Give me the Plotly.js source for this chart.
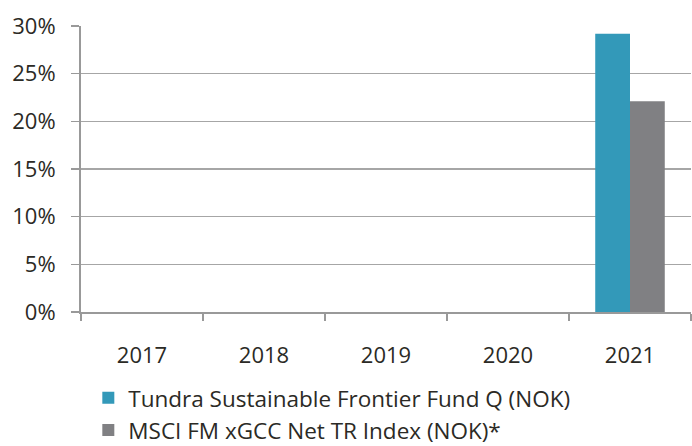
<!DOCTYPE html>
<html>
<head>
<meta charset="utf-8">
<script src="https://cdn.plot.ly/plotly-3.0.1.min.js"></script>
<style>html,body{margin:0;padding:0;background:#fff}#chart{width:692px;height:446px}</style>
</head>
<body>
<div id="chart"></div>
<script>
const years = ["2017", "2018", "2019", "2020", "2021"];
const fundName = "Tundra Sustainable Frontier Fund Q (NOK)";
const indexName = "MSCI FM xGCC Net TR Index (NOK)*";
const fundValues = [null, null, null, null, 29.2];
const indexValues = [null, null, null, null, 22.1];
const yTicks = [0, 5, 10, 15, 20, 25, 30];

const font = "'Open Sans', sans-serif";
const textColor = "#2b2a25";

const traces = [
  {type: "bar", name: fundName, legendgroup: "a", x: years, y: fundValues, marker: {color: "#3399b9"}, hoverinfo: "y"},
  {type: "bar", name: indexName, legendgroup: "b", x: years, y: indexValues, marker: {color: "#808083"}, hoverinfo: "y"}
];

const layout = {
  width: 692, height: 446,
  margin: {l: 81, r: 1, t: 26, b: 134, autoexpand: false},
  paper_bgcolor: "#fff", plot_bgcolor: "#fff",
  font: {family: font, size: 22, color: textColor},
  barmode: "group", bargap: 0.43, bargroupgap: 0,
  showlegend: true,
  legend: {orientation: "v", x: 0.012, xanchor: "left", y: -0.226, yanchor: "top",
           font: {family: font, size: 22.5, color: textColor}, traceorder: "normal",
           tracegroupgap: 12, bgcolor: "rgba(0,0,0,0)"},
  xaxis: {type: "category", showline: true, linecolor: "#999", linewidth: 2,
          ticks: "outside", tickson: "boundaries", ticklen: 7, tickcolor: "#999", tickwidth: 1.5,
          showgrid: false, tickfont: {family: font, size: 22, color: textColor}, ticklabelstandoff: 23},
  yaxis: {range: [0, 30], tickvals: yTicks, ticktext: yTicks.map(v => v + "%"),
          showline: true, linecolor: "#999", linewidth: 2,
          ticks: "outside", ticklen: 8, tickcolor: "#999", tickwidth: 1.5,
          showgrid: true, gridcolor: "#a6a6a6", gridwidth: 1.5, zeroline: false,
          tickfont: {family: font, size: 22, color: textColor}, ticklabelstandoff: 11}
};

Plotly.newPlot("chart", traces, layout, {displayModeBar: false, staticPlot: true});
</script>
</body>
</html>
